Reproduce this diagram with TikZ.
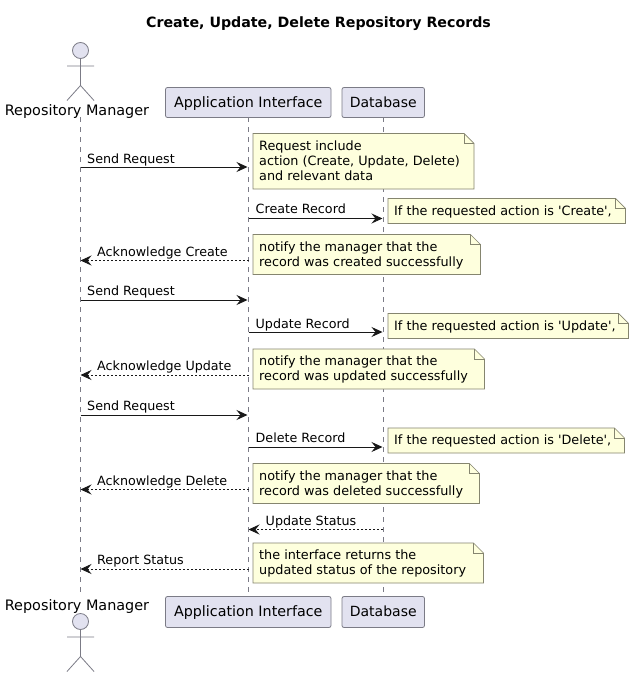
\documentclass[tikz,border=0pt]{standalone}
\usepackage{fontspec}
\setmainfont{DejaVu Sans}
\newfontfamily\plainfont{DejaVu Sans}
\newcommand{\apos}{{\plainfont\char39}}
\usetikzlibrary{arrows.meta,calc}
\definecolor{partfill}{HTML}{E2E2F0}
\definecolor{partline}{HTML}{7B7B86}
\definecolor{notefill}{HTML}{FEFFDD}
\definecolor{noteline}{HTML}{85856F}
\definecolor{ink}{HTML}{181818}
\tikzset{
  x=1pt,y=-1pt,
  partbox/.style={draw=partline,fill=partfill,rounded corners=2pt,line width=0.8pt,inner sep=0pt,text=black,text height=11pt,text depth=2pt},
  lifeline/.style={draw=partline,line width=0.7pt,dash pattern=on 5pt off 5pt},
  actorline/.style={draw=partline,line width=0.8pt},
  actorname/.style={inner sep=0pt,anchor=base,font=\fontsize{14.4}{16}\selectfont,text=black},
  solidmsg/.style={draw=ink,line width=0.9pt,-{Stealth[length=11pt,width=10pt,inset=4pt]}},
  dashmsg/.style={draw=ink,line width=0.8pt,dash pattern=on 2pt off 2pt,-{Stealth[length=11pt,width=10pt,inset=4pt,sep=0pt]}},
  msgtext/.style={inner sep=0pt,anchor=base west,font=\fontsize{12.7}{14}\selectfont,text=black},
  notetext/.style={inner sep=0pt,anchor=north west,align=left,font=\fontsize{12.8}{15}\selectfont,text=black},
  notebody/.style={draw=noteline,fill=notefill,line width=0.7pt,line join=miter},
  appfont/.style={font=\fontsize{14.3}{16}\selectfont},
  dbfont/.style={font=\fontsize{14}{16}\selectfont},
}
% note: name,x1,y1,x2,y2,text
\newcommand{\notebox}[6]{%
  \path[notebody] (#2,#3) -- (#4-10,#3) -- (#4,#3+10) -- (#4,#5) -- (#2,#5) -- cycle;
  \draw[notebody,fill=none] (#4-10,#3) -- (#4-10,#3+10) -- (#4,#3+10);
  \node[notetext] (#1) at (#2+6,#3+7) {#6};
}
\newcommand{\actorfig}[2]{% centre x, head y
  \draw[actorline,fill=partfill] (#1,#2) circle (8);
  \draw[actorline] (#1,#2+8) -- (#1,#2+35) (#1-13.5,#2+15.5) -- (#1+13.5,#2+15.5)
    (#1-13.5,#2+50) -- (#1,#2+35) -- (#1+13.5,#2+50);
}
\begin{document}
\begin{tikzpicture}
\useasboundingbox (0,0) rectangle (634,677);
\fill[white] (0,0) rectangle (634,677);
% lifelines
\coordinate (rmtop) at (80.5,117);
\coordinate (rmbot) at (80.5,594);
\coordinate (aitop) at (248.5,117);
\coordinate (aibot) at (248.5,594);
\coordinate (dbtop) at (383,117);
\coordinate (dbbot) at (383,594);
\draw[lifeline] (rmtop) -- (rmbot);
\draw[lifeline] (aitop) -- (aibot);
\draw[lifeline] (dbtop) -- (dbbot);
% title
\node[inner sep=0pt,anchor=base,font=\bfseries\fontsize{14.2}{16}\selectfont,text=black] (title) at (318.5,28) {Create, Update, Delete Repository Records};
% actors
\actorfig{80.5}{50.5}
\node[actorname] (rmhead) at (77,115) {Repository Manager};
\actorfig{80.5}{621.5}
\node[actorname] (rmfoot) at (77,610) {Repository Manager};
% participants
\node[partbox,appfont,minimum width=165.5pt,minimum height=30pt] (aihead) at (248.25,102.5) {Application Interface};
\node[partbox,dbfont,minimum width=82.5pt,minimum height=30pt] (dbhead) at (383.25,102.5) {Database};
\node[partbox,appfont,minimum width=165.5pt,minimum height=31pt] (aifoot) at (248.25,612) {Application Interface};
\node[partbox,dbfont,minimum width=82.5pt,minimum height=31pt] (dbfoot) at (383.25,612) {Database};
% notes
\notebox{n1}{253}{133.5}{474}{189}{Request include\\action (Create, Update, Delete)\\and relevant data}
\notebox{n2}{388}{198.5}{625.5}{223.5}{If the requested action is \apos Create\apos,}
\notebox{n3}{253}{234.5}{480.5}{274.5}{notify the manager that the\\record was created successfully}
\notebox{n4}{388}{313.5}{628.5}{338.5}{If the requested action is \apos Update\apos,}
\notebox{n5}{253}{349}{484.5}{389}{notify the manager that the\\record was updated successfully}
\notebox{n6}{388}{428}{624.5}{453}{If the requested action is \apos Delete\apos,}
\notebox{n7}{253}{463.5}{479.5}{503.5}{notify the manager that the\\record was deleted successfully}
\notebox{n8}{253}{543}{483.5}{583}{the interface returns the\\updated status of the repository}
% messages
\coordinate (m1a) at (80.5,167); \coordinate (m1b) at (247.5,167);
\draw[solidmsg] (m1a) -- (m1b);
\node[msgtext] (t1) at (87,163) {Send Request};
\coordinate (m2a) at (248.5,218.5); \coordinate (m2b) at (382.5,218.5);
\draw[solidmsg] (m2a) -- (m2b);
\node[msgtext] (t2) at (255.5,213) {Create Record};
\coordinate (m3a) at (248.5,260.5); \coordinate (m3b) at (80.5,260.5);
\draw[dashmsg] (m3a) -- (m3b);
\node[msgtext] (t3) at (97,256) {Acknowledge Create};
\coordinate (m4a) at (80.5,300); \coordinate (m4b) at (247.5,300);
\draw[solidmsg] (m4a) -- (m4b);
\node[msgtext] (t4) at (87,295) {Send Request};
\coordinate (m5a) at (248.5,332); \coordinate (m5b) at (382.5,332);
\draw[solidmsg] (m5a) -- (m5b);
\node[msgtext] (t5) at (255.5,328) {Update Record};
\coordinate (m6a) at (248.5,375); \coordinate (m6b) at (80.5,375);
\draw[dashmsg] (m6a) -- (m6b);
\node[msgtext] (t6) at (97,370) {Acknowledge Update};
\coordinate (m7a) at (80.5,415); \coordinate (m7b) at (247.5,415);
\draw[solidmsg] (m7a) -- (m7b);
\node[msgtext] (t7) at (87,410) {Send Request};
\coordinate (m8a) at (248.5,447); \coordinate (m8b) at (382.5,447);
\draw[solidmsg] (m8a) -- (m8b);
\node[msgtext] (t8) at (255.5,442) {Delete Record};
\coordinate (m9a) at (248.5,489.5); \coordinate (m9b) at (80.5,489.5);
\draw[dashmsg] (m9a) -- (m9b);
\node[msgtext] (t9) at (97,485) {Acknowledge Delete};
\coordinate (m10a) at (383,529.5); \coordinate (m10b) at (248.5,529.5);
\draw[dashmsg] (m10a) -- (m10b);
\node[msgtext] (t10) at (265.5,525) {Update Status};
\coordinate (m11a) at (248.5,569); \coordinate (m11b) at (80.5,569);
\draw[dashmsg] (m11a) -- (m11b);
\node[msgtext] (t11) at (97,564) {Report Status};
\end{tikzpicture}
\end{document}
